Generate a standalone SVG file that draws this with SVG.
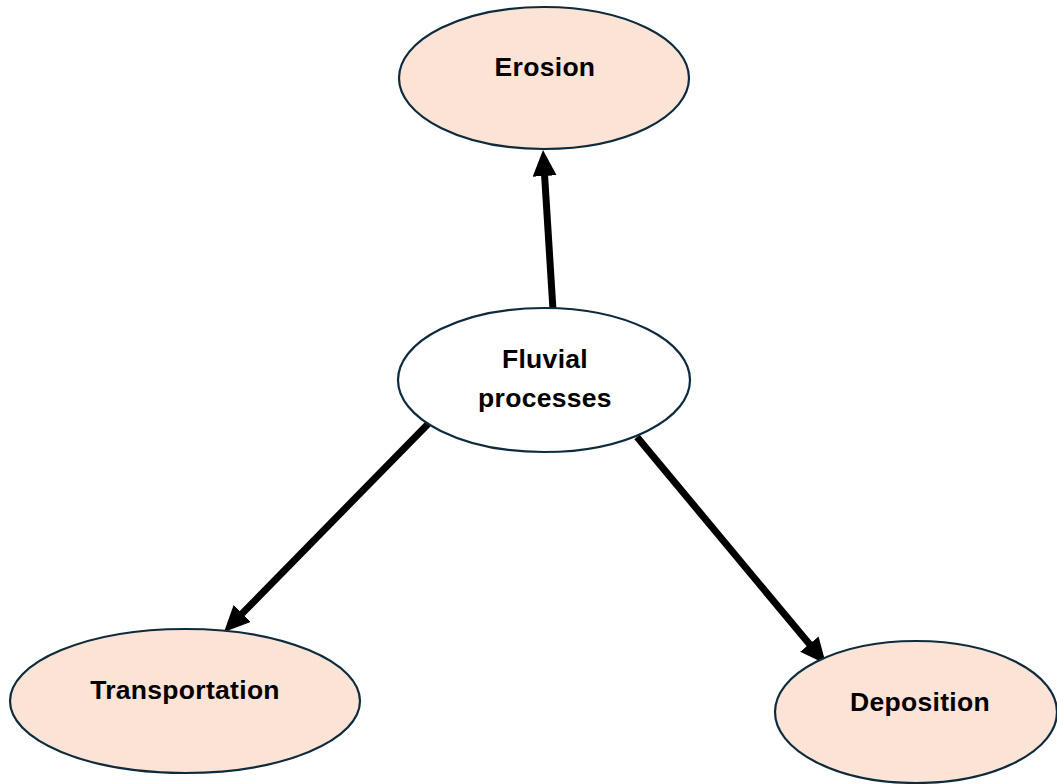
<svg xmlns="http://www.w3.org/2000/svg" width="1057" height="784" viewBox="0 0 1057 784">
<style>
.node{stroke:#0e2b3d;stroke-width:2.2}
.peach{fill:#fbe3d6}
.white{fill:#ffffff}
.lbl{font-family:"Liberation Sans",Arial,sans-serif;font-weight:bold;font-size:26.5px;fill:#000;text-anchor:middle;letter-spacing:0.3px}
.conn{stroke:#000;stroke-width:7;fill:none;stroke-linecap:butt}
</style>
<defs>
<marker id="ah" markerUnits="userSpaceOnUse" markerWidth="28" markerHeight="26" refX="2" refY="12" orient="auto">
<path d="M0,0 L26,12 L0,24 z" fill="#000"/>
</marker>
</defs>
<rect width="1057" height="784" fill="#ffffff"/>
<g id="connectors">
<line class="conn" x1="553" y1="310" x2="544.5" y2="174" marker-end="url(#ah)"/>
<line class="conn" x1="428" y1="424" x2="240.8" y2="614.9" marker-end="url(#ah)"/>
<line class="conn" x1="637" y1="437" x2="810.6" y2="645.6" marker-end="url(#ah)"/>
</g>
<g id="erosion">
<ellipse class="node peach" cx="544" cy="78" rx="145" ry="71"/>
<text class="lbl" x="545" y="76">Erosion</text>
</g>
<g id="fluvial">
<ellipse class="node white" cx="544" cy="380" rx="146" ry="72"/>
<text class="lbl" x="545" y="368">Fluvial</text>
<text class="lbl" x="545" y="407">processes</text>
</g>
<g id="transportation">
<ellipse class="node peach" cx="185" cy="701" rx="175" ry="72"/>
<text class="lbl" x="185" y="699">Transportation</text>
</g>
<g id="deposition">
<ellipse class="node peach" cx="916" cy="712" rx="141" ry="71"/>
<text class="lbl" x="920" y="711">Deposition</text>
</g>
</svg>
